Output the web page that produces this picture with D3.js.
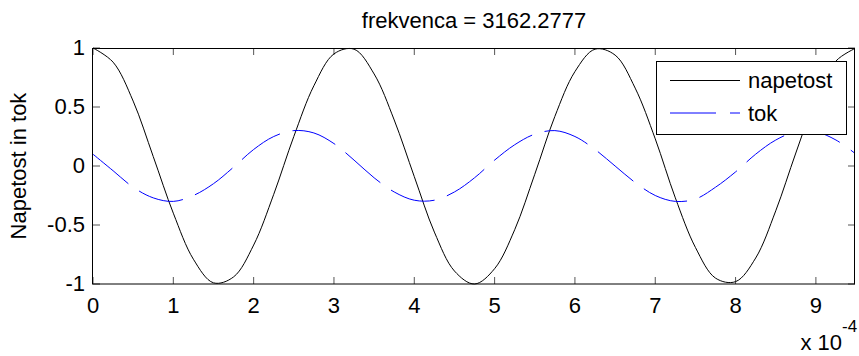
<!DOCTYPE html>
<html>
<head>
<meta charset="utf-8">
<script src="https://cdn.jsdelivr.net/npm/d3@7"></script>
<style>
  body { margin: 0; background: #fff; }
  text { font-family: "Liberation Sans", Arial, Helvetica, sans-serif; }
</style>
</head>
<body>
<div id="chart"></div>
<script>
// time in units of 1e-4 s
const timeValues = [0, 0.25, 0.5, 0.75, 1, 1.25, 1.5, 1.75, 2, 2.25, 2.5, 2.75, 3, 3.25, 3.5, 3.75,
  4, 4.25, 4.5, 4.75, 5, 5.25, 5.5, 5.75, 6, 6.25, 6.5, 6.75, 7, 7.25, 7.5, 7.75,
  8, 8.25, 8.5, 8.75, 9, 9.25, 9.5];
const napetost = [1.00, 0.88, 0.55, 0.08, -0.40, -0.79, -0.99, -0.94, -0.67, -0.24, 0.25, 0.68, 0.95, 0.99,
  0.78, 0.39, -0.09, -0.56, -0.89, -1.00, -0.87, -0.54, -0.07, 0.42, 0.80, 0.99, 0.94, 0.66, 0.23,
  -0.27, -0.69, -0.95, -0.98, -0.78, -0.38, 0.11, 0.57, 0.89, 1.00];
const tok = [0.10, -0.04, -0.18, -0.27, -0.30, -0.25, -0.15, -0.01, 0.14, 0.25, 0.30, 0.28, 0.19, 0.05,
  -0.10, -0.22, -0.29, -0.29, -0.22, -0.10, 0.05, 0.18, 0.27, 0.30, 0.25, 0.14, 0.00, -0.14, -0.25,
  -0.30, -0.28, -0.18, -0.05, 0.10, 0.22, 0.29, 0.29, 0.22, 0.10];
const xTicks = [0, 1, 2, 3, 4, 5, 6, 7, 8, 9];
const xTickLabels = ["0", "1", "2", "3", "4", "5", "6", "7", "8", "9"];
const yTicks = [-1, -0.5, 0, 0.5, 1];
const yTickLabels = ["-1", "-0.5", "0", "0.5", "1"];
const xMax = 9.4868;
const seriesNames = ["napetost", "tok"];

const svgWidth = 859;
const svgHeight = 356;
const margin = { top: 48, right: 4, bottom: 72, left: 93 };
const width = svgWidth - margin.left - margin.right;
const height = svgHeight - margin.top - margin.bottom;

const svg = d3.select("#chart").append("svg")
  .attr("width", svgWidth)
  .attr("height", svgHeight);

const g = svg.append("g")
  .attr("transform", "translate(" + margin.left + "," + margin.top + ")");

const xScale = d3.scaleLinear().domain([0, xMax]).range([0, width]);
const yScale = d3.scaleLinear().domain([-1, 1]).range([height, 0]);

g.append("clipPath").attr("id", "plotclip")
  .append("rect").attr("x", 0).attr("y", -1).attr("width", width).attr("height", height + 2);

// axes with inward ticks
const tickLen = 7;
const xLabel = d => xTickLabels[xTicks.indexOf(d)];
const yLabel = d => yTickLabels[yTicks.indexOf(d)];

const axB = g.append("g").attr("transform", "translate(0," + height + ")")
  .call(d3.axisBottom(xScale).tickValues(xTicks).tickFormat(xLabel).tickSizeInner(-tickLen).tickSizeOuter(0).tickPadding(13).offset(0));
const axT = g.append("g")
  .call(d3.axisTop(xScale).tickValues(xTicks).tickFormat("").tickSizeInner(-tickLen).tickSizeOuter(0).offset(0));
const axL = g.append("g")
  .call(d3.axisLeft(yScale).tickValues(yTicks).tickFormat(yLabel).tickSizeInner(-tickLen).tickSizeOuter(0).tickPadding(8).offset(0));
const axR = g.append("g").attr("transform", "translate(" + width + ",0)")
  .call(d3.axisRight(yScale).tickValues(yTicks).tickFormat("").tickSizeInner(-tickLen).tickSizeOuter(0).offset(0));

[axB, axT, axL, axR].forEach(a => {
  a.select(".domain").remove();
  a.selectAll(".tick line").attr("stroke", "#555");
  a.selectAll(".tick text").attr("fill", "#000").style("font-size", "22px");
});

// curves
const line = d3.line()
  .x((d, i) => xScale(timeValues[i]))
  .y(d => yScale(d))
  .curve(d3.curveCatmullRom);

const plot = g.append("g").attr("clip-path", "url(#plotclip)");

plot.append("path")
  .datum(napetost)
  .attr("fill", "none")
  .attr("stroke", "#000")
  .attr("stroke-width", 1)
  .attr("d", line);

plot.append("path")
  .datum(tok)
  .attr("fill", "none")
  .attr("stroke", "#0000ff")
  .attr("stroke-width", 1)
  .attr("stroke-dasharray", "46,13")
  .attr("d", line);

// box
g.append("rect")
  .attr("x", -0.5).attr("y", 0.5)
  .attr("width", width).attr("height", height - 0.5)
  .attr("fill", "none")
  .attr("stroke", "#000")
  .attr("stroke-width", 1);

// title and labels
svg.append("text")
  .attr("x", margin.left + width / 2)
  .attr("y", 28)
  .attr("text-anchor", "middle")
  .style("font-size", "22px")
  .text("frekvenca = 3162.2777");

svg.append("text")
  .attr("transform", "translate(26," + (margin.top + height / 2) + ") rotate(-90)")
  .attr("text-anchor", "middle")
  .style("font-size", "22px")
  .text("Napetost in tok");

svg.append("text")
  .attr("x", 842)
  .attr("y", 350)
  .attr("text-anchor", "end")
  .style("font-size", "22px")
  .text("x 10");
svg.append("text")
  .attr("x", 842)
  .attr("y", 332)
  .style("font-size", "17px")
  .text("-4");

// legend
const legend = svg.append("g").attr("transform", "translate(656.5,61.5)");
legend.append("rect")
  .attr("width", 190).attr("height", 73)
  .attr("fill", "#fff")
  .attr("stroke", "#000")
  .attr("stroke-width", 1);

const legendStyles = [
  { color: "#000", dash: null, y: 19 },
  { color: "#0000ff", dash: "46,14", y: 51.5 }
];
seriesNames.forEach((name, i) => {
  const s = legendStyles[i];
  legend.append("line")
    .attr("x1", 13.5).attr("x2", 83.5)
    .attr("y1", s.y).attr("y2", s.y)
    .attr("stroke", s.color)
    .attr("stroke-width", 1)
    .attr("stroke-dasharray", s.dash);
  legend.append("text")
    .attr("x", 91.5)
    .attr("y", s.y + 7.5)
    .style("font-size", "22px")
    .text(name);
});
</script>
</body>
</html>
